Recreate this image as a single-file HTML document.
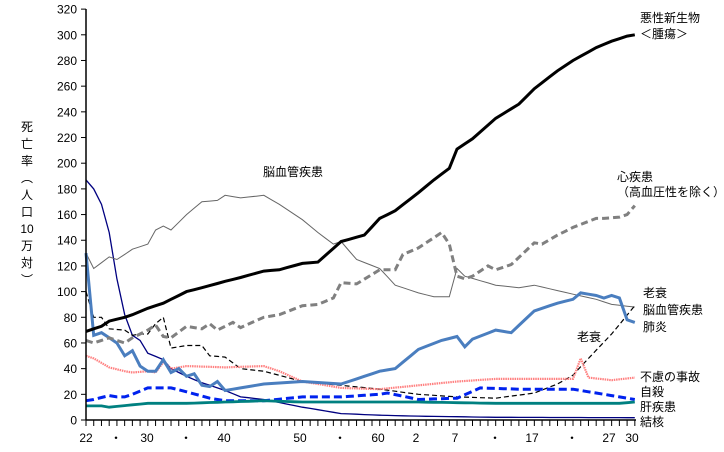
<!DOCTYPE html><html><head><meta charset="utf-8"><style>
body{margin:0;background:#fff}
svg text{font-family:"Liberation Sans","Noto Sans CJK JP",sans-serif;font-size:12px;fill:#000}
</style></head><body>
<svg id="s" width="724" height="447" xmlns="http://www.w3.org/2000/svg"></svg>
<script>
const s=document.getElementById('s');
const X=y=>86+(y-1947)*7.73, Y=v=>420-v*1.284;
function interp(pts){const o=[];for(let i=0;i<pts.length-1;i+=2){}
 const k=[];for(let i=0;i<pts.length;i+=2)k.push([pts[i],pts[i+1]]);
 for(let yr=1947;yr<=2018;yr++){let j=0;while(j<k.length-1&&k[j+1][0]<yr)j++;
  const a=k[j],b=k[Math.min(j+1,k.length-1)];let v=a[1];if(b[0]!=a[0])v=a[1]+(b[1]-a[1])*(yr-a[0])/(b[0]-a[0]);o.push([yr,v]);}
 return o;}
let h='';
function line(pts,st){const d=interp(pts).map((p,i)=>(i?'L':'M')+X(p[0]).toFixed(1)+' '+Y(p[1]).toFixed(1)).join('');h+=`<path d="${d}" fill="none" ${st}/>`;}
line([1947,187,1948,180,1949,168,1950,146,1951,110,1952,82,1953,66,1954,62,1955,52,1957,47,1958,40,1960,34,1962,29,1965,23,1967,18,1970,16,1975,10,1980,5,1985,3.7,1990,3,2000,2.1,2018,1.8],'stroke="#000080" stroke-width="1.3"');
line([1947,130,1948,118,1950,127,1951,125,1953,133,1955,137,1956,148,1957,151,1958,148,1960,160,1962,170,1964,171,1965,175,1967,173,1970,175,1972,168,1975,156,1977,146,1979,137,1980,139,1982,125,1985,118,1987,105,1990,99,1992,96,1994,96,1995,118,1996,112,2000,105,2003,103,2005,105,2010,98,2013,94,2015,90,2018,88],'stroke="#666" stroke-width="1"');
line([1947,100,1948,80,1949,80,1950,71,1952,70,1953,66,1954,67,1955,67,1956,75,1957,80,1958,56,1960,58,1962,58,1963,50,1965,49,1967,40,1970,38,1975,30,1980,27,1985,24,1990,20,1995,18,2000,17,2005,21,2008,28,2010,35,2012,48,2015,67,2018,89],'stroke="#000" stroke-width="1.2" stroke-dasharray="5,3"');
line([1947,50,1948,48,1950,41,1952,38,1953,37,1955,38,1956,37,1957,45,1958,40,1960,42,1965,41,1970,42,1972,38,1975,30,1980,25,1985,24,1990,27,1995,30,2000,32,2010,32,2011,48,2012,33,2015,31,2018,33],'stroke="#ff8080" stroke-width="2.2" stroke-dasharray="1.5,0.8"');
line([1947,15,1948,16,1950,19,1951,18,1952,18,1953,20,1955,25,1958,25,1960,22,1963,17,1965,15,1970,15,1975,18,1980,18,1985,20,1986,21,1990,16,1995,17,1998,25,2003,24,2010,24,2015,19,2018,16],'stroke="#0022ee" stroke-width="3" stroke-dasharray="8,4"');
line([1947,11,1949,11,1950,10,1955,13,1960,13,1970,15,1975,14,1980,14,1990,14,2000,13,2010,13,2016,13,2018,14],'stroke="#008080" stroke-width="2.8"');
line([1947,130,1948,66,1949,68,1950,64,1951,60,1952,50,1953,54,1954,42,1955,38,1956,38,1957,47,1958,37,1959,40,1960,34,1961,36,1962,27,1963,26,1964,30,1965,23,1966,24,1970,28,1975,30,1980,28,1985,38,1987,40,1990,55,1993,62,1995,65,1996,57,1997,63,2000,70,2002,68,2005,85,2008,91,2010,94,2011,99,2013,97,2014,95,2015,97,2016,95,2017,78,2018,76],'stroke="#4a7ebf" stroke-width="3"');
line([1947,62,1948,60,1950,64,1952,60,1953,64,1955,70,1956,74,1957,65,1958,64,1960,73,1962,71,1963,75,1964,70,1966,76,1967,72,1970,80,1972,82,1975,89,1977,90,1979,95,1980,107,1982,106,1985,117,1987,117,1988,129,1990,134,1993,146,1994,137,1995,112,1996,110,1997,112,1999,120,2000,117,2002,121,2005,138,2006,137,2008,144,2010,150,2013,157,2014,157,2016,158,2017,160,2018,167],'stroke="#808080" stroke-width="3" stroke-dasharray="7,4"');
line([1947,69,1949,73,1950,77,1952,80,1953,82,1955,87,1957,91,1960,100,1962,103,1965,108,1967,111,1970,116,1972,117,1975,122,1977,123,1980,139,1983,144,1985,157,1987,163,1990,177,1992,187,1994,196,1995,211,1997,219,2000,235,2003,246,2005,258,2008,272,2010,280,2013,290,2015,295,2017,299,2018,300],'stroke="#000" stroke-width="3"');
// axes
h+='<line x1="86" y1="9" x2="86" y2="420" stroke="#000" stroke-width="1.5"/><line x1="86" y1="420" x2="636" y2="420" stroke="#000" stroke-width="1.5"/>';
for(let v=0;v<=320;v+=20){h+=`<line x1="81" x2="86" y1="${Y(v)}" y2="${Y(v)}" stroke="#000"/><text x="77" y="${Y(v)+4.5}" text-anchor="end">${v}</text>`;}
for(let yr=1947;yr<=2018;yr++)h+=`<line x1="${X(yr)}" x2="${X(yr)}" y1="420" y2="426" stroke="#000"/>`;
[[86,'22'],[116,'・'],[147,'30'],[186,'・'],[224,'40'],[300,'50'],[340,'・'],[378,'60'],[416,'2'],[455,'7'],[495,'・'],[532,'17'],[572,'・'],[609,'27'],[632,'30']].forEach(([x,t])=>h+=`<text x="${x}" y="442" text-anchor="middle">${t}</text>`);
const L=(x,y,t)=>h+=`<text x="${x}" y="${y}">${t}</text>`;
L(640,22,'悪性新生物');L(640,38,'＜腫瘍＞');L(263,176,'脳血管疾患');L(617,181,'心疾患');L(617,196,'（高血圧性を除く）');
L(643,297,'老衰');L(643,314,'脳血管疾患');L(643,331,'肺炎');L(577,341,'老衰');L(640,381,'不慮の事故');L(640,396,'自殺');L(640,411,'肝疾患');L(640,426,'結核');
'死亡率︵人口10万対︶'.replace('10','Ⅹ').split('').forEach((c,i)=>{if(c=='Ⅹ')c='10';h+=`<text x="27" y="${131+i*17}" text-anchor="middle">${c}</text>`;});
s.innerHTML=h;
</script></body></html>
